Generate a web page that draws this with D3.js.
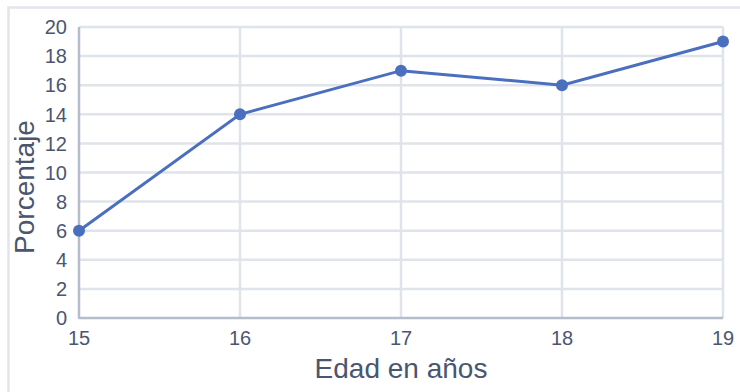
<!DOCTYPE html>
<html>
<head>
<meta charset="utf-8">
<script src="https://cdn.jsdelivr.net/npm/d3@7"></script>
<style>
  body { margin: 0; background: #fff; }
  text { font-family: "Liberation Sans", Arial, sans-serif; }
</style>
</head>
<body>
<div id="chart"></div>
<script>
// Data
const ages = [15, 16, 17, 18, 19];
const percentages = [6, 14, 17, 16, 19];
const yTicks = [0, 2, 4, 6, 8, 10, 12, 14, 16, 18, 20];

const width = 740, height = 392;
const margin = {top: 27, right: 17, bottom: 74, left: 79};

const svg = d3.select('#chart').append('svg')
  .attr('width', width)
  .attr('height', height);

// Outer frame
svg.append('rect')
  .attr('x', 8.5).attr('y', 7.5)
  .attr('width', width + 10).attr('height', height + 10)
  .style('fill', 'none')
  .style('stroke', '#e2e5ea')
  .style('stroke-width', 2.5);

const x = d3.scaleLinear()
  .domain([15, 19])
  .range([margin.left, width - margin.right]);

const y = d3.scaleLinear()
  .domain([0, 20])
  .range([height - margin.bottom, margin.top]);

const grid = svg.append('g');

// Horizontal grid
grid.selectAll('.hgrid')
  .data(yTicks.filter(d => d > 0))
  .enter().append('line')
  .attr('x1', x(15)).attr('x2', x(19))
  .attr('y1', d => y(d)).attr('y2', d => y(d))
  .style('stroke', '#dfe3ea')
  .style('stroke-width', 2.5);

// Vertical grid
grid.selectAll('.vgrid')
  .data(ages.slice(1))
  .enter().append('line')
  .attr('x1', d => x(d)).attr('x2', d => x(d))
  .attr('y1', y(0)).attr('y2', y(20))
  .style('stroke', '#dfe3ea')
  .style('stroke-width', 2.5);

// Axes lines
svg.append('line')
  .attr('x1', x(15)).attr('x2', x(15))
  .attr('y1', y(0) + 1).attr('y2', y(20))
  .style('stroke', '#b3bdcb').style('stroke-width', 2.5);
svg.append('line')
  .attr('x1', x(15)).attr('x2', x(19))
  .attr('y1', y(0)).attr('y2', y(0))
  .style('stroke', '#b3bdcb').style('stroke-width', 2.5);

// Tick labels
svg.selectAll('.ylab')
  .data(yTicks)
  .enter().append('text')
  .attr('x', 67)
  .attr('y', d => y(d))
  .attr('dy', '0.36em')
  .attr('text-anchor', 'end')
  .style('font-size', '20px')
  .style('fill', '#4a5670')
  .text(d => d);

svg.selectAll('.xlab')
  .data(ages)
  .enter().append('text')
  .attr('x', d => x(d))
  .attr('y', 345)
  .attr('text-anchor', 'middle')
  .style('font-size', '20px')
  .style('fill', '#4a5670')
  .text(d => d);

// Axis titles
svg.append('text')
  .attr('transform', 'translate(34,187) rotate(-90)')
  .attr('text-anchor', 'middle')
  .style('font-size', '28px')
  .style('fill', '#4a5670')
  .text('Porcentaje');

svg.append('text')
  .attr('x', (x(15) + x(19)) / 2)
  .attr('y', 378)
  .attr('text-anchor', 'middle')
  .style('font-size', '28px')
  .style('fill', '#4a5670')
  .text('Edad en años');

// Line + points
const points = ages.map((a, i) => ({age: a, value: percentages[i]}));
const line = d3.line()
  .x(d => x(d.age))
  .y(d => y(d.value));

svg.append('path')
  .datum(points)
  .attr('d', line)
  .style('fill', 'none')
  .style('stroke', '#4a6fbf')
  .style('stroke-width', 3);

svg.selectAll('.dot')
  .data(points)
  .enter().append('circle')
  .attr('cx', d => x(d.age))
  .attr('cy', d => y(d.value))
  .attr('r', 6)
  .style('fill', '#4a6fbf');
</script>
</body>
</html>
